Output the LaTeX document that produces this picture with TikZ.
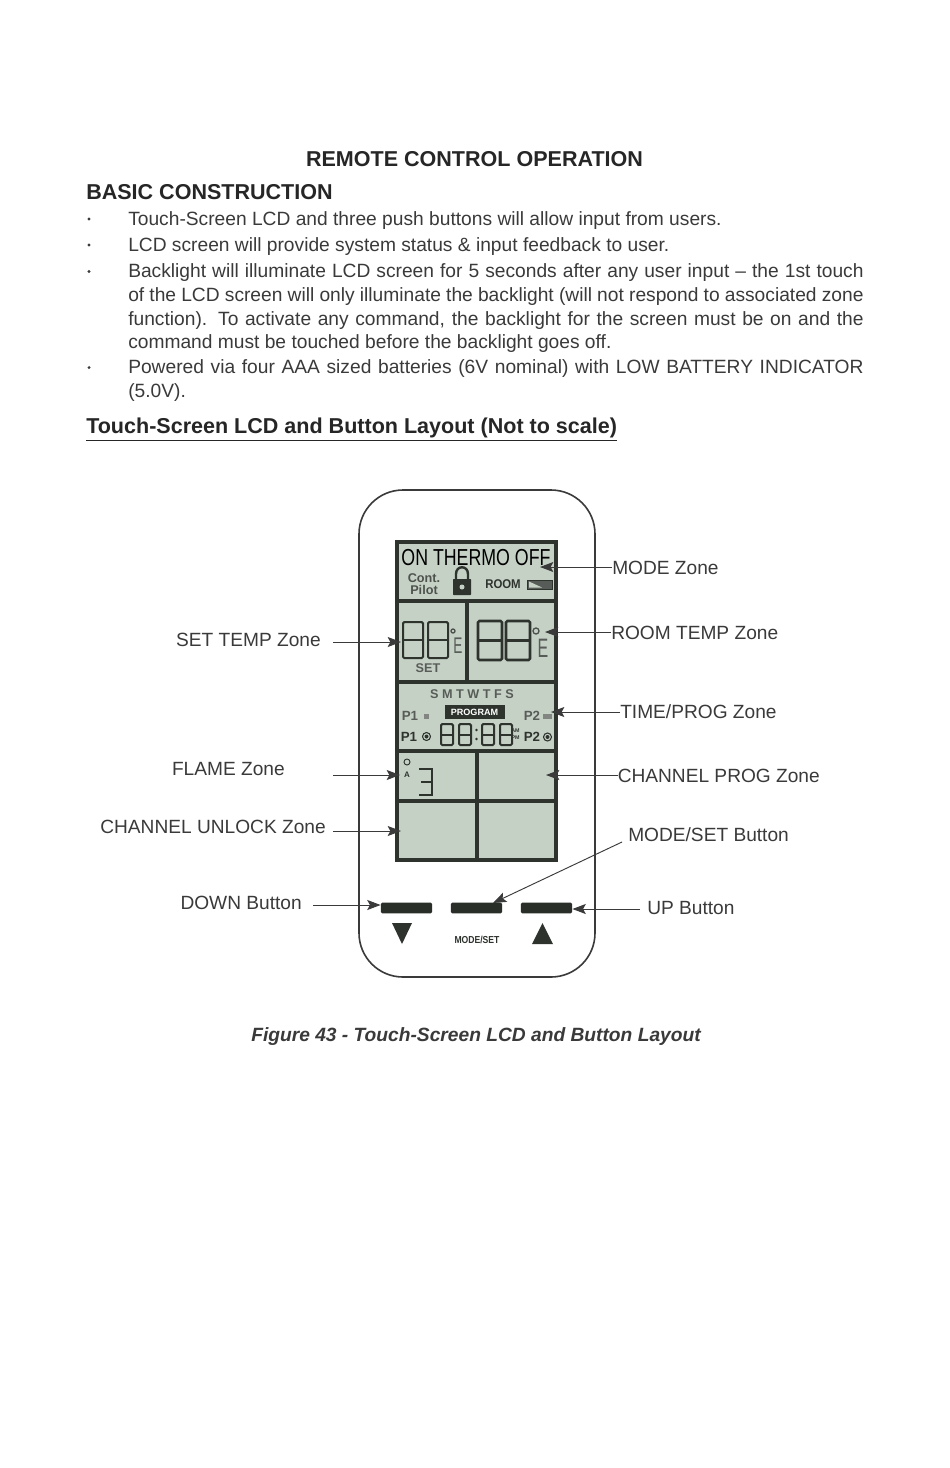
\documentclass[tikz,border=0pt]{standalone}
\usepackage{fontspec}
\setmainfont{Liberation Sans}
\usetikzlibrary{arrows.meta}
\definecolor{ink}{HTML}{3A3A3A}
\definecolor{headink}{HTML}{262626}
\definecolor{lcdfill}{HTML}{C6D1C6}
\definecolor{lcdline}{HTML}{2E332E}
\newcommand{\bodyfs}{\fontsize{14.4}{16}\selectfont}
\newcommand{\lblfs}{\fontsize{14.35}{16}\selectfont}
\newcommand{\just}[1]{\makebox[551.5pt][s]{#1}}
\tikzset{
  x=0.75pt,y=-0.75pt,
  txt/.style={anchor=west,inner sep=0pt,text=ink,font=\bodyfs},
  head/.style={inner sep=0pt,text=headink,font=\fontsize{16.15}{18}\selectfont\bfseries},
  lbl/.style={inner sep=0pt,text=ink,font=\lblfs},
  lcdt/.style={inner sep=0pt,text=lcdline,font=\fontsize{7.5}{8}\selectfont\bfseries},
  callout/.style={draw=ink,line width=0.7pt,-{Stealth[length=10pt,width=7.5pt,inset=2pt]}},
  btn/.style={draw=none,fill=lcdline!90!black,rounded corners=1pt,minimum width=38.5pt,minimum height=8pt,inner sep=0pt},
  lcdframe/.style={draw=lcdline,line width=2.6pt},
  seg/.style={draw=lcdline,line width=1.5pt,rounded corners=1pt},
  segb/.style={draw=lcdline,line width=1.9pt,rounded corners=1pt},
  segs/.style={draw=lcdline!85,line width=1pt},
}
\newcommand{\digit}[5][seg]{% x0 x1 y0 y1
  \draw[#1] (#2,#4) rectangle (#3,#5);
  \draw[#1] (#2,{(#4+#5)/2}) -- (#3,{(#4+#5)/2});
}
\begin{document}
\begin{tikzpicture}
\useasboundingbox (0,0) rectangle (950,1468);
\fill[white] (0,0) rectangle (950,1468);

\node[head] (title) at (474.5,159.5) {REMOTE CONTROL OPERATION};
\node[head,anchor=west] (basic) at (86,192) {BASIC CONSTRUCTION};

\foreach \yy/\nn in {219/a,245/b,271.5/c,367.5/d}
  \node[circle,fill=ink,inner sep=0.8pt] (bul\nn) at (89,\yy) {};

\node[txt] (l1) at (128,220.5) {Touch-Screen LCD and three push buttons will allow input from users.};
\node[txt] (l2) at (128,246.5) {LCD screen will provide system status \& input feedback to user.};
\node[txt] (l3) at (128,273) {\just{Backlight will illuminate LCD screen for 5 seconds after any user input -- the 1st touch}};
\node[txt] (l4) at (128,296.5) {\just{of the LCD screen will only illuminate the backlight (will not respond to associated zone}};
\node[txt] (l5) at (128,320.5) {\just{function). To activate any command, the backlight for the screen must be on and the}};
\node[txt] (l6) at (128,344) {command must be touched before the backlight goes off.};
\node[txt] (l7) at (128,369) {\just{Powered via four AAA sized batteries (6V nominal) with LOW BATTERY INDICATOR}};
\node[txt] (l8) at (128,392.5) {(5.0V).};
\node[head,anchor=west] (sub) at (86,429.5) {\underline{Touch-Screen LCD and Button Layout (Not to scale)}};

% remote body
\draw[draw=ink,line width=1.2pt,rounded corners=33pt] (359,490) rectangle (595,977);

% LCD
\fill[lcdfill] (397,542) rectangle (556,860);
\draw[lcdframe] (397,542) rectangle (556,860);
\draw[lcdframe] (397,601) -- (556,601);
\draw[lcdframe] (397,682) -- (556,682);
\draw[lcdframe] (397,751) -- (556,751);
\draw[lcdframe] (397,801) -- (556,801);
\draw[lcdframe] (467,601) -- (467,682);
\draw[lcdframe] (477,751) -- (477,860);

\node[inner sep=0pt,text=black] (onoff) at (476,558) {\scalebox{0.86}[1.12]{\fontsize{15.5}{16}\selectfont ON THERMO OFF}};
\node[lcdt,text=lcdline!85,align=center,font=\fontsize{9.5}{9.5}\selectfont\bfseries] (pilot) at (424,584) {Cont.\\Pilot};
\draw[lcdline,line width=1.8pt] (456,580) -- (456,574) .. controls (456,565) and (468,565) .. (468,574) -- (468,580);
\fill[lcdline,rounded corners=0.5pt] (453,579) rectangle (471,595);
\fill[lcdfill] (462,587) circle (2.5);
\node[lcdt,font=\fontsize{9.5}{10}\selectfont\bfseries] (room) at (503,584) {\scalebox{0.9}[1]{ROOM}};
\draw[lcdline,fill=lcdline!80,line width=0.6pt] (527,580) rectangle (552,589);
\fill[lcdfill] (529,581.5) -- (542,587.5) -- (529,587.5) -- cycle;

\digit{403}{423}{622}{658}
\digit{428}{448}{622}{658}
\draw[segs] (453,631) circle (2);
\node[inner sep=0pt,text=lcdline!80,font=\fontsize{17}{17}\selectfont] (setE) at (458,646) {\scalebox{0.6}[1]{E}};
\node[lcdt,font=\fontsize{9.5}{10}\selectfont\bfseries,text=lcdline!80] (setlbl) at (428,668.5) {SET};

\digit[segb]{478}{502}{621}{660}
\digit[segb]{506}{530}{621}{660}
\draw[segs] (536,631) circle (3);
\node[inner sep=0pt,text=lcdline!80,font=\fontsize{20}{20}\selectfont] (roomE) at (543,648) {\scalebox{0.6}[1]{E}};

\node[lcdt,font=\fontsize{9.5}{10}\selectfont\bfseries,text=lcdline!80] (days) at (472,694) {S M T W T F S};
\node[draw=none,fill=lcdline,text=white,inner sep=0pt,minimum width=45pt,minimum height=11pt,font=\fontsize{6.8}{7}\selectfont\bfseries] (prog) at (474.5,712) {PROGRAM};
\node[lcdt,font=\fontsize{10}{10}\selectfont\bfseries,text=lcdline!80] (p1a) at (410,716) {P1};
\fill[lcdline!60] (424,714) rectangle (429,719);
\node[lcdt,font=\fontsize{10}{10}\selectfont\bfseries] (p1c) at (409,737) {P1};
\draw[lcdline,line width=0.8pt] (426.5,736.5) circle (4);
\fill[lcdline] (426.5,736.5) circle (2);
\node[lcdt,font=\fontsize{10}{10}\selectfont\bfseries,text=lcdline!80] (p2a) at (532,716) {P2};
\fill[lcdline!60] (543,714) rectangle (552,719);
\node[lcdt,font=\fontsize{10}{10}\selectfont\bfseries] (p2c) at (532,737) {P2};
\draw[lcdline,line width=0.8pt] (547.5,737) circle (4);
\fill[lcdline] (547.5,737) circle (2);

\digit{441}{453}{724}{745}
\digit{459}{471}{724}{745}
\fill[lcdline] (476.5,730) circle (1.4);
\fill[lcdline] (476.5,739) circle (1.4);
\digit{482}{494}{724}{745}
\digit{500}{512}{724}{745}
\node[lcdt,font=\fontsize{4}{5}\selectfont\bfseries,align=center] (ampm) at (515.5,734) {AM\\PM};

\node[lcdt,font=\fontsize{6}{6}\selectfont\bfseries] (flA) at (407,775) {A};
\draw[lcdline,line width=0.7pt] (407,762) circle (3);
\draw[lcdline,line width=1.6pt] (419,769) -- (432,769) -- (432,795) -- (419,795);
\draw[lcdline,line width=1.6pt] (421,782) -- (432,782);

% buttons
\node[btn] (downbtn) at (406.5,908) {};
\node[btn] (modebtn) at (476.5,908) {};
\node[btn] (upbtn) at (546.5,908) {};
\fill[lcdline] (392,923) -- (412,923) -- (402,944) -- cycle;
\fill[lcdline] (532,944) -- (553,944) -- (542.5,923) -- cycle;
\node[lcdt,font=\fontsize{7.6}{8}\selectfont\bfseries] (modetxt) at (477,940) {\scalebox{0.85}[1]{MODE/SET}};

% callout labels
\node[lbl,anchor=west] (modeL) at (612,567.5) {MODE Zone};
\node[lbl,anchor=west] (roomL) at (611,633) {ROOM TEMP Zone};
\node[lbl,anchor=west] (timeL) at (620,711.5) {TIME/PROG Zone};
\node[lbl,anchor=west] (chanL) at (617.5,775.5) {CHANNEL PROG Zone};
\node[lbl,anchor=west] (msetL) at (628,834.5) {MODE/SET Button};
\node[lbl,anchor=west] (upL) at (647,907.5) {UP Button};
\node[lbl,anchor=east] (setL) at (321,639.5) {SET TEMP Zone};
\node[lbl,anchor=east] (flameL) at (285,769) {FLAME Zone};
\node[lbl,anchor=east] (unlockL) at (326,827) {CHANNEL UNLOCK Zone};
\node[lbl,anchor=east] (downL) at (302,902.5) {DOWN Button};

% connector free ends
\coordinate (modeT) at (540,567);
\coordinate (roomT) at (545,632);
\coordinate (timeT) at (551,712);
\coordinate (chanT) at (546,775);
\coordinate (msetS) at (622,842);
\coordinate (msetT) at (493,903);
\coordinate (setS) at (333,642);
\coordinate (setT) at (401,642);
\coordinate (flameS) at (333,775);
\coordinate (flameT) at (400,775);
\coordinate (unlockS) at (333,831);
\coordinate (unlockT) at (401,831);
\coordinate (downS) at (313,905);
\coordinate (upS) at (640,909);

\draw[callout] (modeL.west |- modeT) -- (modeT);
\draw[callout] (roomL.west |- roomT) -- (roomT);
\draw[callout] (timeL.west |- timeT) -- (timeT);
\draw[callout] (chanL.west |- chanT) -- (chanT);
\draw[callout] (msetS) -- (msetT);
\draw[callout] (upS) -- (upS -| upbtn.east);
\draw[callout] (setS) -- (setT);
\draw[callout] (flameS) -- (flameT);
\draw[callout] (unlockS) -- (unlockT);
\draw[callout] (downS) -- (downS -| downbtn.west);

\node[inner sep=0pt,text=ink,font=\fontsize{14.4}{16}\selectfont\bfseries\itshape] (fig) at (476,1037) {Figure 43 - Touch-Screen LCD and Button Layout};
\end{tikzpicture}
\end{document}
